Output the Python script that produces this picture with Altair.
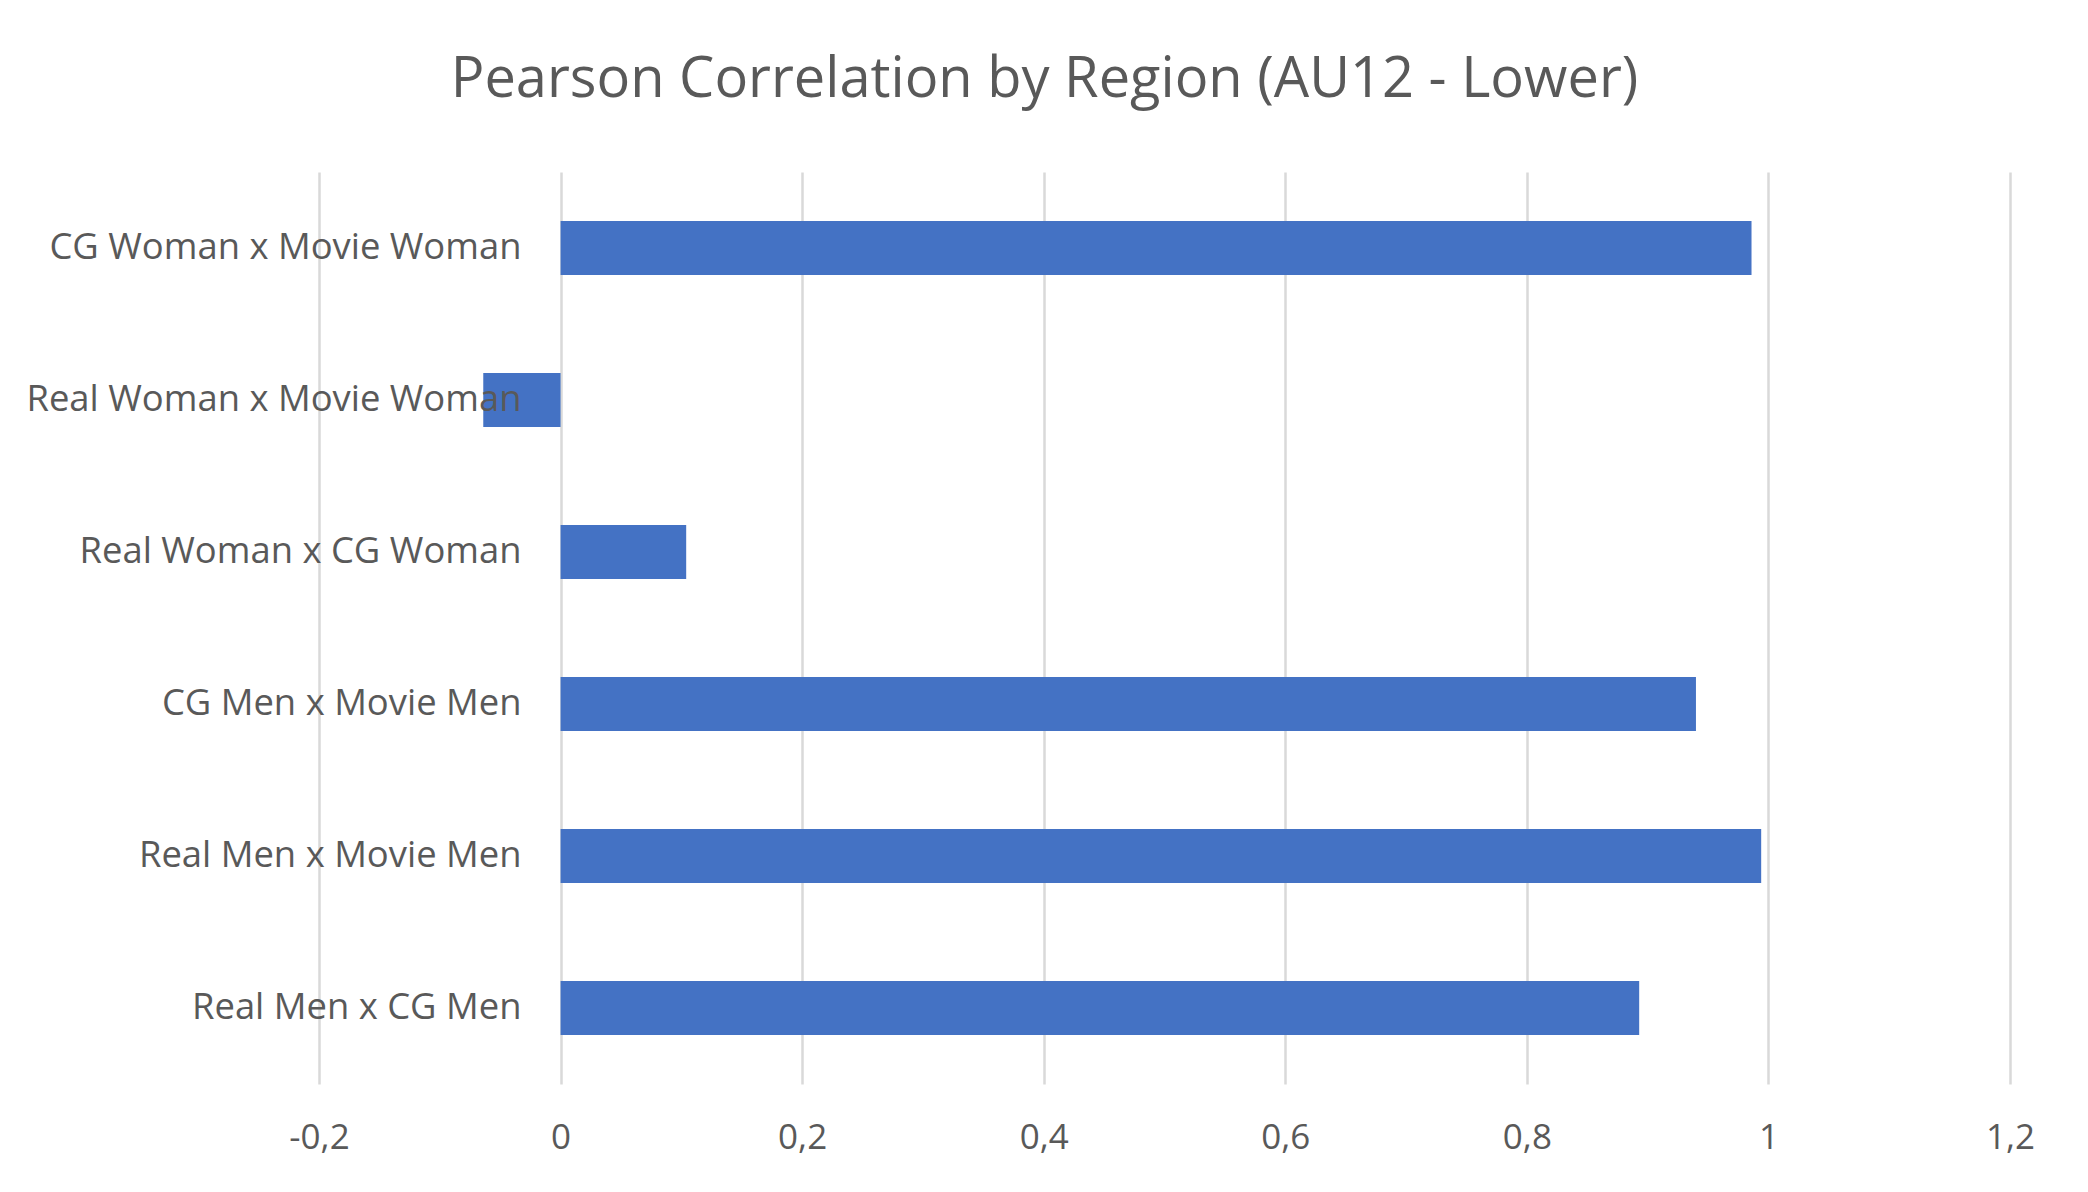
import altair as alt
import pandas as pd

categories = [
    "CG Woman x Movie Woman",
    "Real Woman x Movie Woman",
    "Real Woman x CG Woman",
    "CG Men x Movie Men",
    "Real Men x Movie Men",
    "Real Men x CG Men",
]
values = [0.986, -0.064, 0.104, 0.940, 0.994, 0.893]
x_ticks = [-0.2, 0, 0.2, 0.4, 0.6, 0.8, 1, 1.2]

df = pd.DataFrame({"pair": categories, "r": values})

FONT = "Open Sans"
TXT = "#595959"

chart = (
    alt.Chart(df)
    .mark_bar(color="#4472c4")
    .encode(
        x=alt.X(
            "r:Q",
            scale=alt.Scale(domain=[-0.2, 1.2], nice=False, zero=False),
            axis=alt.Axis(
                title=None,
                values=x_ticks,
                labelExpr="replace(toString(datum.value), '.', ',')",
                grid=True,
                gridColor="#d9d9d9",
                gridWidth=2.5,
                domain=False,
                ticks=False,
                tickSize=0,
                labelFlush=False,
                labelFont=FONT,
                labelFontSize=35,
                labelColor=TXT,
                labelBaseline="alphabetic",
                labelPadding=64,
                zindex=0,
            ),
        ),
        y=alt.Y(
            "pair:N",
            sort=categories,
            scale=alt.Scale(paddingInner=0.645, paddingOuter=0.3225),
            axis=alt.Axis(
                title=None,
                domain=False,
                ticks=False,
                tickSize=0,
                grid=False,
                offset=-241,
                labelPadding=39,
                labelFont=FONT,
                labelFontSize=36.4,
                labelColor=TXT,
                labelLimit=1000,
                zindex=1,
            ),
        ),
    )
    .properties(
        width=1691,
        height=912,
        autosize=alt.AutoSizeParams(type="none"),
        padding={"left": 311, "top": 164, "right": 70, "bottom": 100},
        title=alt.TitleParams(
            "Pearson Correlation by Region (AU12 - Lower)",
            font=FONT,
            fontSize=56,
            fontWeight="normal",
            color=TXT,
            anchor="middle",
            baseline="alphabetic",
            offset=19,
            dx=-120,
        ),
    )
    .configure(background="white", view=alt.ViewConfig(stroke="transparent", strokeWidth=0))
)

chart.save("out.html", embed_options={"renderer": "svg", "actions": False})
